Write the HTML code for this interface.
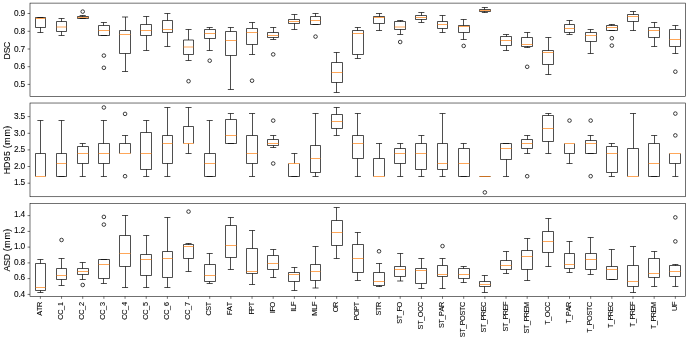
<!DOCTYPE html>
<html><head><meta charset="utf-8"><style>
html,body{margin:0;padding:0;background:#fff;}
svg{display:block;will-change:transform;}
.b path{fill:none;stroke:#000;stroke-width:0.694;stroke-linecap:butt;stroke-linejoin:miter;}
.b path.m{stroke:#ff7f0e;stroke-linecap:butt;}
.b circle.fl{fill:none;stroke:#000;stroke-width:0.75;}
.fr{fill:none;stroke:#000;stroke-width:0.556;}
.tk{fill:none;stroke:#000;stroke-width:0.556;}
text{font-family:"Liberation Sans",sans-serif;fill:#000;stroke:#000;stroke-width:0.08px;}
.yt{font-size:8.328px;}
.xt{font-size:7.356px;}
.yl{font-size:8.830px;}
</style></head><body>
<svg width="688" height="341" viewBox="0 0 688 341">
<rect width="688" height="341" fill="#fff"/>
<g class="b">
<path d="M40.5 27.5V32.5M37.35 32.5H43.42M37.35 17.5H43.42M35.5 27.5H45.5V17.5H35.5Z"/>
<path class="m" d="M35.5 18.5H45.5"/>
<path d="M61.5 31.5V35.5M61.5 21.5V18.5M58.52 35.5H64.59M58.52 18.5H64.59M56.5 31.5H66.5V21.5H56.5Z"/>
<path class="m" d="M56.5 27H66.5"/>
<path d="M82.5 16.5V15.5M79.68 18.5H85.75M79.68 15.5H85.75M77.5 18.5H88.5V16.5H77.5Z"/>
<path class="m" d="M77.5 17.5H88.5"/>
<circle class="fl" cx="82.72" cy="11.6" r="1.8"/>
<path d="M103.5 25.5V22.5M100.85 35.5H106.92M100.85 22.5H106.92M98.5 35.5H109.5V25.5H98.5Z"/>
<path class="m" d="M98.5 30.5H109.5"/>
<circle class="fl" cx="103.88" cy="55.6" r="1.8"/>
<circle class="fl" cx="103.88" cy="67.8" r="1.8"/>
<path d="M125.5 53.5V71.5M125.5 30.5V17M122.01 71.5H128.08M122.01 17H128.08M119.5 53.5H130.5V30.5H119.5Z"/>
<path class="m" d="M119.5 34.5H130.5"/>
<path d="M146.5 35.5V50.5M146.5 24.5V16.5M143.18 50.5H149.25M143.18 16.5H149.25M140.5 35.5H151.5V24.5H140.5Z"/>
<path class="m" d="M140.5 30.5H151.5"/>
<path d="M167.5 32.5V46.5M167.5 20.5V13.5M164.34 46.5H170.41M164.34 13.5H170.41M162.5 32.5H172.5V20.5H162.5Z"/>
<path class="m" d="M162.5 29.5H172.5"/>
<path d="M188.5 54.5V60.5M188.5 40V29.5M185.51 60.5H191.58M185.51 29.5H191.58M183.5 54.5H193.5V40H183.5Z"/>
<path class="m" d="M183.5 47H193.5"/>
<circle class="fl" cx="188.54" cy="81.2" r="1.8"/>
<path d="M209.5 38.5V50.5M209.5 29.5V27.5M206.67 50.5H212.74M206.67 27.5H212.74M204.5 38.5H215.5V29.5H204.5Z"/>
<path class="m" d="M204.5 33.5H215.5"/>
<circle class="fl" cx="209.71" cy="60.7" r="1.8"/>
<path d="M230.5 55.5V89.5M230.5 31.5V27.5M227.84 89.5H233.91M227.84 27.5H233.91M225.5 55.5H236.5V31.5H225.5Z"/>
<path class="m" d="M225.5 40.5H236.5"/>
<path d="M252.5 44.5V54.5M252.5 28.5V22.5M249 54.5H255.07M249 22.5H255.07M246.5 44.5H257.5V28.5H246.5Z"/>
<path class="m" d="M246.5 32.5H257.5"/>
<circle class="fl" cx="252.04" cy="80.7" r="1.8"/>
<path d="M273.5 37.5V39.5M273.5 32.5V27.5M270.17 39.5H276.24M270.17 27.5H276.24M267.5 37.5H278.5V32.5H267.5Z"/>
<path class="m" d="M267.5 35.5H278.5"/>
<circle class="fl" cx="273.2" cy="54.4" r="1.8"/>
<path d="M294.5 23.5V29.5M294.5 19.5V14.5M291.33 29.5H297.4M291.33 14.5H297.4M288.5 23.5H299.5V19.5H288.5Z"/>
<path class="m" d="M288.5 21.5H299.5"/>
<path d="M315.5 16.5V13.5M312.5 24.5H318.57M312.5 13.5H318.57M310.5 24.5H320.5V16.5H310.5Z"/>
<path class="m" d="M310.5 20.5H320.5"/>
<circle class="fl" cx="315.53" cy="36.6" r="1.8"/>
<path d="M336.5 82.5V92.5M336.5 62.5V52.5M333.66 92.5H339.73M333.66 52.5H339.73M331.5 82.5H342.5V62.5H331.5Z"/>
<path class="m" d="M331.5 72.5H342.5"/>
<path d="M357.5 54.5V58.5M357.5 30.5V27.5M354.83 58.5H360.9M354.83 27.5H360.9M352.5 54.5H363.5V30.5H352.5Z"/>
<path class="m" d="M352.5 33.5H363.5"/>
<path d="M379.5 23.5V30.5M379.5 16.5V13.5M375.99 30.5H382.06M375.99 13.5H382.06M373.5 23.5H384.5V16.5H373.5Z"/>
<path class="m" d="M373.5 17.5H384.5"/>
<path d="M400.5 29.5V34.5M400.5 21.5V20.5M397.16 34.5H403.23M397.16 20.5H403.23M394.5 29.5H405.5V21.5H394.5Z"/>
<path class="m" d="M394.5 27H405.5"/>
<circle class="fl" cx="400.19" cy="42" r="1.8"/>
<path d="M421.5 19.5V22.5M421.5 15.5V12.5M418.32 22.5H424.39M418.32 12.5H424.39M415.5 19.5H426.5V15.5H415.5Z"/>
<path class="m" d="M415.5 17.5H426.5"/>
<path d="M442.5 28.5V32.5M442.5 21.5V15.5M439.49 32.5H445.56M439.49 15.5H445.56M437.5 28.5H447.5V21.5H437.5Z"/>
<path class="m" d="M437.5 24.5H447.5"/>
<path d="M463.5 32.5V39.5M463.5 25.5V19.5M460.65 39.5H466.72M460.65 19.5H466.72M458.5 32.5H469.5V25.5H458.5Z"/>
<path class="m" d="M458.5 26.5H469.5"/>
<circle class="fl" cx="463.69" cy="45.9" r="1.8"/>
<path d="M484.5 11.5V12.5M484.5 9.5V7.5M481.82 12.5H487.89M481.82 7.5H487.89M479.5 11.5H490.5V9.5H479.5Z"/>
<path class="m" d="M479.5 10.5H490.5"/>
<path d="M506.5 45.5V50.5M506.5 36.5V34.5M502.98 50.5H509.05M502.98 34.5H509.05M500.5 45.5H511.5V36.5H500.5Z"/>
<path class="m" d="M500.5 40.5H511.5"/>
<path d="M527.5 46.5V47.5M527.5 37.5V32.5M524.15 47.5H530.22M524.15 32.5H530.22M521.5 46.5H532.5V37.5H521.5Z"/>
<path class="m" d="M521.5 44.5H532.5"/>
<circle class="fl" cx="527.18" cy="66.8" r="1.8"/>
<path d="M548.5 64.5V74.5M548.5 50.5V37.5M545.31 74.5H551.38M545.31 37.5H551.38M542.5 64.5H553.5V50.5H542.5Z"/>
<path class="m" d="M542.5 52.5H553.5"/>
<path d="M569.5 32.5V34.5M569.5 24.5V20.5M566.48 34.5H572.55M566.48 20.5H572.55M564.5 32.5H574.5V24.5H564.5Z"/>
<path class="m" d="M564.5 28.5H574.5"/>
<path d="M590.5 41.5V53.5M590.5 32.5V29.5M587.64 53.5H593.71M587.64 29.5H593.71M585.5 41.5H596.5V32.5H585.5Z"/>
<path class="m" d="M585.5 35.5H596.5"/>
<path d="M611.5 25.5V24.5M608.81 30.5H614.88M608.81 24.5H614.88M606.5 30.5H617.5V25.5H606.5Z"/>
<path class="m" d="M606.5 27.5H617.5"/>
<circle class="fl" cx="611.84" cy="38.2" r="1.8"/>
<circle class="fl" cx="611.84" cy="45.6" r="1.8"/>
<path d="M633.5 21.5V30.5M633.5 14.5V11.5M629.97 30.5H636.04M629.97 11.5H636.04M627.5 21.5H638.5V14.5H627.5Z"/>
<path class="m" d="M627.5 16.5H638.5"/>
<path d="M654.5 37.5V46.5M654.5 27.5V22.5M651.14 46.5H657.21M651.14 22.5H657.21M648.5 37.5H659.5V27.5H648.5Z"/>
<path class="m" d="M648.5 30.5H659.5"/>
<path d="M675.5 46.5V53.5M675.5 29.5V25.5M672.3 53.5H678.37M672.3 25.5H678.37M669.5 46.5H680.5V29.5H669.5Z"/>
<path class="m" d="M669.5 39.5H680.5"/>
<circle class="fl" cx="675.34" cy="71.7" r="1.8"/>
<path d="M40.5 153.5V120.5M37.35 120.5H43.42M35.5 176.5V153.5H45.5V176.5"/>
<path class="m" d="M35.5 176.5H45.5"/>
<path d="M61.5 153.5V120.5M58.52 176.5H64.59M58.52 120.5H64.59M56.5 176.5H66.5V153.5H56.5Z"/>
<path class="m" d="M56.5 163.5H66.5"/>
<path d="M82.5 163.5V176.5M82.5 146.5V143.5M79.68 176.5H85.75M79.68 143.5H85.75M77.5 163.5H88.5V146.5H77.5Z"/>
<path class="m" d="M77.5 153.5H88.5"/>
<path d="M103.5 163.5V176.5M103.5 143.5V120.5M100.85 176.5H106.92M100.85 120.5H106.92M98.5 163.5H109.5V143.5H98.5Z"/>
<path class="m" d="M98.5 153.5H109.5"/>
<circle class="fl" cx="103.88" cy="107.5" r="1.8"/>
<path d="M125.5 143.5V135.5M122.01 135.5H128.08M119.5 153.5V143.5H130.5V153.5"/>
<path class="m" d="M119.5 153.5H130.5"/>
<circle class="fl" cx="125.05" cy="113.9" r="1.8"/>
<circle class="fl" cx="125.05" cy="176.2" r="1.8"/>
<path d="M146.5 169.5V176.5M146.5 132.5V120.5M143.18 176.5H149.25M143.18 120.5H149.25M140.5 169.5H151.5V132.5H140.5Z"/>
<path class="m" d="M140.5 153.5H151.5"/>
<path d="M167.5 163.5V176.5M167.5 135.5V107.5M164.34 176.5H170.41M164.34 107.5H170.41M162.5 163.5H172.5V135.5H162.5Z"/>
<path class="m" d="M162.5 143.5H172.5"/>
<path d="M188.5 143.5V153.5M188.5 126.5V107.5M185.51 153.5H191.58M185.51 107.5H191.58M183.5 143.5V126.5H193.5V143.5"/>
<path class="m" d="M183.5 143.5H193.5"/>
<path d="M209.5 153.5V120.5M206.67 176.5H212.74M206.67 120.5H212.74M204.5 176.5H215.5V153.5H204.5Z"/>
<path class="m" d="M204.5 163.5H215.5"/>
<path d="M230.5 119.5V113.5M227.84 143.5H233.91M227.84 113.5H233.91M225.5 143.5H236.5V119.5H225.5Z"/>
<path class="m" d="M225.5 135.5H236.5"/>
<path d="M252.5 163.5V176.5M252.5 135.5V113.5M249 176.5H255.07M249 113.5H255.07M246.5 163.5H257.5V135.5H246.5Z"/>
<path class="m" d="M246.5 153.5H257.5"/>
<path d="M273.5 145.5V147.5M273.5 139.5V135.5M270.17 147.5H276.24M270.17 135.5H276.24M267.5 145.5H278.5V139.5H267.5Z"/>
<path class="m" d="M267.5 143.5H278.5"/>
<circle class="fl" cx="273.2" cy="120.6" r="1.8"/>
<circle class="fl" cx="273.2" cy="163.5" r="1.8"/>
<path d="M294.5 163.5V153.5M291.33 176.5H297.4M291.33 153.5H297.4M288.5 163.5V176.5H299.5V163.5"/>
<path class="m" d="M288.5 163.5H299.5"/>
<path d="M315.5 172.5V176.5M315.5 145.5V113.5M312.5 176.5H318.57M312.5 113.5H318.57M310.5 172.5H320.5V145.5H310.5Z"/>
<path class="m" d="M310.5 158.5H320.5"/>
<path d="M336.5 128.5V135.5M336.5 114.5V107.5M333.66 135.5H339.73M333.66 107.5H339.73M331.5 128.5H342.5V114.5H331.5Z"/>
<path class="m" d="M331.5 121.5H342.5"/>
<path d="M357.5 158.5V176.5M357.5 135.5V113.5M354.83 176.5H360.9M354.83 113.5H360.9M352.5 158.5H363.5V135.5H352.5Z"/>
<path class="m" d="M352.5 143.5H363.5"/>
<path d="M379.5 158.5V143.5M375.99 143.5H382.06M373.5 176.5V158.5H384.5V176.5"/>
<path class="m" d="M373.5 176.5H384.5"/>
<path d="M400.5 163.5V176.5M400.5 148.5V143.5M397.16 176.5H403.23M397.16 143.5H403.23M394.5 163.5H405.5V148.5H394.5Z"/>
<path class="m" d="M394.5 153.5H405.5"/>
<path d="M421.5 169.5V176.5M421.5 143.5V135.5M418.32 176.5H424.39M418.32 135.5H424.39M415.5 169.5H426.5V143.5H415.5Z"/>
<path class="m" d="M415.5 153.5H426.5"/>
<path d="M442.5 169.5V176.5M442.5 143.5V113.5M439.49 176.5H445.56M439.49 113.5H445.56M437.5 169.5H447.5V143.5H437.5Z"/>
<path class="m" d="M437.5 163.5H447.5"/>
<path d="M463.5 148.5V143.5M460.65 176.5H466.72M460.65 143.5H466.72M458.5 176.5H469.5V148.5H458.5Z"/>
<path class="m" d="M458.5 163.5H469.5"/>
<path d="M479.5 176.5H490.5"/>
<path class="m" d="M479.5 176.5H490.5"/>
<circle class="fl" cx="484.85" cy="192.4" r="1.8"/>
<path d="M506.5 159.5V176.5M502.98 176.5H509.05M502.98 143.5H509.05M500.5 159.5H511.5V143.5H500.5Z"/>
<path class="m" d="M500.5 148.5H511.5"/>
<path d="M527.5 148.5V153.5M527.5 139.5V135.5M524.15 153.5H530.22M524.15 135.5H530.22M521.5 148.5H532.5V139.5H521.5Z"/>
<path class="m" d="M521.5 143.5H532.5"/>
<circle class="fl" cx="527.18" cy="176.2" r="1.8"/>
<path d="M548.5 141.5V153.5M548.5 115.5V113.5M545.31 153.5H551.38M545.31 113.5H551.38M542.5 141.5H553.5V115.5H542.5Z"/>
<path class="m" d="M542.5 128.5H553.5"/>
<path d="M569.5 153.5V163.5M566.48 163.5H572.55M564.5 143.5V153.5H574.5V143.5"/>
<path class="m" d="M564.5 143.5H574.5"/>
<circle class="fl" cx="569.51" cy="120.6" r="1.8"/>
<path d="M590.5 140.5V135.5M587.64 153.5H593.71M587.64 135.5H593.71M585.5 153.5H596.5V140.5H585.5Z"/>
<path class="m" d="M585.5 143.5H596.5"/>
<circle class="fl" cx="590.68" cy="120.6" r="1.8"/>
<circle class="fl" cx="590.68" cy="176.2" r="1.8"/>
<path d="M611.5 172.5V176.5M611.5 146.5V143.5M608.81 176.5H614.88M608.81 143.5H614.88M606.5 172.5H617.5V146.5H606.5Z"/>
<path class="m" d="M606.5 153.5H617.5"/>
<path d="M633.5 148.5V113.5M629.97 113.5H636.04M627.5 176.5V148.5H638.5V176.5"/>
<path class="m" d="M627.5 176.5H638.5"/>
<path d="M654.5 143.5V135.5M651.14 176.5H657.21M651.14 135.5H657.21M648.5 176.5H659.5V143.5H648.5Z"/>
<path class="m" d="M648.5 163.5H659.5"/>
<path d="M675.5 163.5V176.5M672.3 176.5H678.37M669.5 153.5V163.5H680.5V153.5"/>
<path class="m" d="M669.5 153.5H680.5"/>
<circle class="fl" cx="675.34" cy="113.6" r="1.8"/>
<circle class="fl" cx="675.34" cy="135.4" r="1.8"/>
<path d="M40.5 290.5V292.5M40.5 263.5V259.5M37.35 292.5H43.42M37.35 259.5H43.42M35.5 290.5H45.5V263.5H35.5Z"/>
<path class="m" d="M35.5 287.5H45.5"/>
<path d="M61.5 279.5V285.5M61.5 268.5V258.5M58.52 285.5H64.59M58.52 258.5H64.59M56.5 279.5H66.5V268.5H56.5Z"/>
<path class="m" d="M56.5 275.5H66.5"/>
<circle class="fl" cx="61.55" cy="240" r="1.8"/>
<path d="M82.5 274.5V279.5M82.5 268.5V262.5M79.68 279.5H85.75M79.68 262.5H85.75M77.5 274.5H88.5V268.5H77.5Z"/>
<path class="m" d="M77.5 271.5H88.5"/>
<circle class="fl" cx="82.72" cy="285" r="1.8"/>
<path d="M103.5 278.5V283.5M100.85 283.5H106.92M100.85 259.5H106.92M98.5 278.5H109.5V259.5H98.5Z"/>
<path class="m" d="M98.5 264.5H109.5"/>
<circle class="fl" cx="103.88" cy="216.9" r="1.8"/>
<circle class="fl" cx="103.88" cy="224.6" r="1.8"/>
<path d="M125.5 266.5V287.5M125.5 235.5V215.5M122.01 287.5H128.08M122.01 215.5H128.08M119.5 266.5H130.5V235.5H119.5Z"/>
<path class="m" d="M119.5 253.5H130.5"/>
<path d="M146.5 275.5V287.5M146.5 254.5V235.5M143.18 287.5H149.25M143.18 235.5H149.25M140.5 275.5H151.5V254.5H140.5Z"/>
<path class="m" d="M140.5 259.5H151.5"/>
<path d="M167.5 277.5V287.5M167.5 251.5V217.5M164.34 287.5H170.41M164.34 217.5H170.41M162.5 277.5H172.5V251.5H162.5Z"/>
<path class="m" d="M162.5 258.5H172.5"/>
<path d="M188.5 258.5V271.5M188.5 244.5V243.5M185.51 271.5H191.58M185.51 243.5H191.58M183.5 258.5H193.5V244.5H183.5Z"/>
<path class="m" d="M183.5 246.5H193.5"/>
<circle class="fl" cx="188.54" cy="211.6" r="1.8"/>
<path d="M209.5 281.5V283.5M209.5 264.5V253.5M206.67 283.5H212.74M206.67 253.5H212.74M204.5 281.5H215.5V264.5H204.5Z"/>
<path class="m" d="M204.5 275.5H215.5"/>
<path d="M230.5 257.5V269.5M230.5 225.5V217.5M227.84 269.5H233.91M227.84 217.5H233.91M225.5 257.5H236.5V225.5H225.5Z"/>
<path class="m" d="M225.5 245.5H236.5"/>
<path d="M252.5 273.5V284.5M252.5 248.5V230.5M249 284.5H255.07M249 230.5H255.07M246.5 273.5H257.5V248.5H246.5Z"/>
<path class="m" d="M246.5 271.5H257.5"/>
<path d="M273.5 269.5V277.5M273.5 255.5V249.5M270.17 277.5H276.24M270.17 249.5H276.24M267.5 269.5H278.5V255.5H267.5Z"/>
<path class="m" d="M267.5 263.5H278.5"/>
<path d="M294.5 281.5V290.5M294.5 272.5V267.5M291.33 290.5H297.4M291.33 267.5H297.4M288.5 281.5H299.5V272.5H288.5Z"/>
<path class="m" d="M288.5 274.5H299.5"/>
<path d="M315.5 280.5V288M315.5 264.5V246.5M312.5 288H318.57M312.5 246.5H318.57M310.5 280.5H320.5V264.5H310.5Z"/>
<path class="m" d="M310.5 271.5H320.5"/>
<path d="M336.5 245.5V258.5M336.5 220.5V207.5M333.66 258.5H339.73M333.66 207.5H339.73M331.5 245.5H342.5V220.5H331.5Z"/>
<path class="m" d="M331.5 232.5H342.5"/>
<path d="M357.5 272.5V280.5M357.5 244.5V232.5M354.83 280.5H360.9M354.83 232.5H360.9M352.5 272.5H363.5V244.5H352.5Z"/>
<path class="m" d="M352.5 258.5H363.5"/>
<path d="M379.5 285.5V286.5M379.5 272.5V263.5M375.99 286.5H382.06M375.99 263.5H382.06M373.5 285.5H384.5V272.5H373.5Z"/>
<path class="m" d="M373.5 281.5H384.5"/>
<circle class="fl" cx="379.03" cy="251.3" r="1.8"/>
<path d="M400.5 276.5V281M400.5 266.5V253.5M397.16 281H403.23M397.16 253.5H403.23M394.5 276.5H405.5V266.5H394.5Z"/>
<path class="m" d="M394.5 269.5H405.5"/>
<path d="M421.5 283.5V288.5M421.5 268.5V258.5M418.32 288.5H424.39M418.32 258.5H424.39M415.5 283.5H426.5V268.5H415.5Z"/>
<path class="m" d="M415.5 270.5H426.5"/>
<path d="M442.5 276.5V288.5M442.5 265.5V258.5M439.49 288.5H445.56M439.49 258.5H445.56M437.5 276.5H447.5V265.5H437.5Z"/>
<path class="m" d="M437.5 274.5H447.5"/>
<circle class="fl" cx="442.52" cy="246.1" r="1.8"/>
<path d="M463.5 278.5V282.5M463.5 268.5V266.5M460.65 282.5H466.72M460.65 266.5H466.72M458.5 278.5H469.5V268.5H458.5Z"/>
<path class="m" d="M458.5 274.5H469.5"/>
<path d="M484.5 286.5V292.5M484.5 281.5V275.5M481.82 292.5H487.89M481.82 275.5H487.89M479.5 286.5H490.5V281.5H479.5Z"/>
<path class="m" d="M479.5 284.5H490.5"/>
<path d="M506.5 269.5V273.5M506.5 260.5V251.5M502.98 273.5H509.05M502.98 251.5H509.05M500.5 269.5H511.5V260.5H500.5Z"/>
<path class="m" d="M500.5 265.5H511.5"/>
<path d="M527.5 269.5V280.5M527.5 250.5V238.5M524.15 280.5H530.22M524.15 238.5H530.22M521.5 269.5H532.5V250.5H521.5Z"/>
<path class="m" d="M521.5 256.5H532.5"/>
<path d="M548.5 252.5V266.5M548.5 231.5V218.5M545.31 266.5H551.38M545.31 218.5H551.38M542.5 252.5H553.5V231.5H542.5Z"/>
<path class="m" d="M542.5 241.5H553.5"/>
<path d="M569.5 268.5V272.5M569.5 253.5V241.5M566.48 272.5H572.55M566.48 241.5H572.55M564.5 268.5H574.5V253.5H564.5Z"/>
<path class="m" d="M564.5 264.5H574.5"/>
<path d="M590.5 269.5V274.5M590.5 253.5V237.5M587.64 274.5H593.71M587.64 237.5H593.71M585.5 269.5H596.5V253.5H585.5Z"/>
<path class="m" d="M585.5 259.5H596.5"/>
<path d="M611.5 266.5V249.5M608.81 279.5H614.88M608.81 249.5H614.88M606.5 279.5H617.5V266.5H606.5Z"/>
<path class="m" d="M606.5 269.5H617.5"/>
<path d="M633.5 286.5V292.5M633.5 265.5V246.5M629.97 292.5H636.04M629.97 246.5H636.04M627.5 286.5H638.5V265.5H627.5Z"/>
<path class="m" d="M627.5 281.5H638.5"/>
<path d="M654.5 277.5V286.5M654.5 258.5V251.5M651.14 286.5H657.21M651.14 251.5H657.21M648.5 277.5H659.5V258.5H648.5Z"/>
<path class="m" d="M648.5 273.5H659.5"/>
<path d="M675.5 276.5V286.5M675.5 265.5V264.5M672.3 286.5H678.37M672.3 264.5H678.37M669.5 276.5H680.5V265.5H669.5Z"/>
<path class="m" d="M669.5 271.5H680.5"/>
<circle class="fl" cx="675.34" cy="217.4" r="1.8"/>
<circle class="fl" cx="675.34" cy="241.4" r="1.8"/>
</g>
<rect class="fr" x="30" y="3.1" width="655.5" height="93.47"/>
<path class="tk" d="M27.57 84.4H30M27.57 66.7H30M27.57 49H30M27.57 31.3H30M27.57 13.5H30"/>
<rect class="fr" x="30" y="103.02" width="655.5" height="93.73"/>
<path class="tk" d="M27.57 183.2H30M27.57 166.5H30M27.57 149.9H30M27.57 133.3H30M27.57 116.6H30"/>
<rect class="fr" x="30" y="203.35" width="655.5" height="93.06"/>
<path class="tk" d="M27.57 294.4H30M27.57 278.6H30M27.57 262.9H30M27.57 247.1H30M27.57 231.4H30M27.57 215.6H30M40.39 296.41V298.84M61.55 296.41V298.84M82.72 296.41V298.84M103.88 296.41V298.84M125.05 296.41V298.84M146.21 296.41V298.84M167.38 296.41V298.84M188.54 296.41V298.84M209.71 296.41V298.84M230.87 296.41V298.84M252.04 296.41V298.84M273.2 296.41V298.84M294.37 296.41V298.84M315.53 296.41V298.84M336.7 296.41V298.84M357.86 296.41V298.84M379.03 296.41V298.84M400.19 296.41V298.84M421.36 296.41V298.84M442.52 296.41V298.84M463.69 296.41V298.84M484.85 296.41V298.84M506.02 296.41V298.84M527.18 296.41V298.84M548.35 296.41V298.84M569.51 296.41V298.84M590.68 296.41V298.84M611.84 296.41V298.84M633.01 296.41V298.84M654.17 296.41V298.84M675.34 296.41V298.84"/>
<text class="yt" transform="translate(25.14 87)" x="-11.15 -6.68 -4.52">0.5</text>
<text class="yt" transform="translate(25.14 69)" x="-11.15 -6.68 -4.52">0.6</text>
<text class="yt" transform="translate(25.14 52)" x="-11.15 -6.68 -4.52">0.7</text>
<text class="yt" transform="translate(25.14 34)" x="-11.15 -6.68 -4.52">0.8</text>
<text class="yt" transform="translate(25.14 16)" x="-11.15 -6.68 -4.52">0.9</text>
<text class="yl" transform="translate(9.9 50.65) rotate(-90)" x="-8.74 -2.65 2.66">DSC</text>
<text class="yt" transform="translate(25.14 185)" x="-11.15 -6.68 -4.52">1.5</text>
<text class="yt" transform="translate(25.14 169)" x="-11.15 -6.68 -4.52">2.0</text>
<text class="yt" transform="translate(25.14 152)" x="-11.15 -6.68 -4.52">2.5</text>
<text class="yt" transform="translate(25.14 136)" x="-11.15 -6.68 -4.52">3.0</text>
<text class="yt" transform="translate(25.14 119)" x="-11.15 -6.68 -4.52">3.5</text>
<text class="yl" transform="translate(9.9 149.9) rotate(-90)" x="-24.38 -18.04 -11.45 -6.15 -0.95 1.75 5.23 13.34 21.23">HD95 (mm)</text>
<text class="yt" transform="translate(25.14 297)" x="-11.15 -6.68 -4.52">0.4</text>
<text class="yt" transform="translate(25.14 280)" x="-11.15 -6.68 -4.52">0.6</text>
<text class="yt" transform="translate(25.14 265)" x="-11.15 -6.68 -4.52">0.8</text>
<text class="yt" transform="translate(25.14 249)" x="-11.15 -6.68 -4.52">1.0</text>
<text class="yt" transform="translate(25.14 233)" x="-11.15 -6.68 -4.52">1.2</text>
<text class="yt" transform="translate(25.14 217)" x="-11.15 -6.68 -4.52">1.4</text>
<text class="yl" transform="translate(9.9 249.95) rotate(-90)" x="-21.48 -15.99 -10.38 -3.89 -1.19 2.29 10.4 18.29">ASD (mm)</text>
<text class="xt" transform="translate(41.89 301.87) rotate(-90)" x="-13.89 -9.19 -5.07">ATR</text>
<text class="xt" transform="translate(63.05 301.87) rotate(-90)" x="-17.81 -12.96 -8.2 -4.25">CC_1</text>
<text class="xt" transform="translate(84.22 301.87) rotate(-90)" x="-17.81 -12.96 -8.2 -4.25">CC_2</text>
<text class="xt" transform="translate(105.38 301.87) rotate(-90)" x="-17.81 -12.96 -8.2 -4.25">CC_3</text>
<text class="xt" transform="translate(126.55 301.87) rotate(-90)" x="-17.81 -12.96 -8.2 -4.25">CC_4</text>
<text class="xt" transform="translate(147.71 301.87) rotate(-90)" x="-17.81 -12.96 -8.2 -4.25">CC_5</text>
<text class="xt" transform="translate(168.88 301.87) rotate(-90)" x="-17.81 -12.96 -8.2 -4.25">CC_6</text>
<text class="xt" transform="translate(190.04 301.87) rotate(-90)" x="-17.81 -12.96 -8.2 -4.25">CC_7</text>
<text class="xt" transform="translate(211.21 301.87) rotate(-90)" x="-13.72 -8.9 -4.37">CST</text>
<text class="xt" transform="translate(232.37 301.87) rotate(-90)" x="-13.23 -9.07 -4.37">FAT</text>
<text class="xt" transform="translate(253.54 301.87) rotate(-90)" x="-12.67 -8.79 -4.37">FPT</text>
<text class="xt" transform="translate(274.7 301.87) rotate(-90)" x="-11.5 -9.71 -5.59">IFO</text>
<text class="xt" transform="translate(295.87 301.87) rotate(-90)" x="-9.9 -7.97 -4.24">ILF</text>
<text class="xt" transform="translate(317.03 301.87) rotate(-90)" x="-13.92 -7.97 -4.24">MLF</text>
<text class="xt" transform="translate(338.2 301.87) rotate(-90)" x="-10.41 -5.07">OR</text>
<text class="xt" transform="translate(359.36 301.87) rotate(-90)" x="-18.43 -14.02 -8.79 -4.37">POPT</text>
<text class="xt" transform="translate(380.53 301.87) rotate(-90)" x="-13.72 -9.19 -5.07">STR</text>
<text class="xt" transform="translate(401.69 301.87) rotate(-90)" x="-21.82 -17.29 -13.24 -9.71 -5.59">ST_FO</text>
<text class="xt" transform="translate(422.86 301.87) rotate(-90)" x="-27.52 -22.99 -18.93 -15.28 -9.92 -5.08">ST_OCC</text>
<text class="xt" transform="translate(444.02 301.87) rotate(-90)" x="-26.12 -21.59 -17.54 -14.12 -9.65 -5.07">ST_PAR</text>
<text class="xt" transform="translate(465.19 301.87) rotate(-90)" x="-35.5 -30.97 -26.92 -23.5 -19.08 -13.74 -9.21 -5.08">ST_POSTC</text>
<text class="xt" transform="translate(486.35 301.87) rotate(-90)" x="-30.6 -26.07 -22.02 -18.6 -14.3 -9.49 -5.08">ST_PREC</text>
<text class="xt" transform="translate(507.52 301.87) rotate(-90)" x="-29.75 -25.22 -21.16 -17.74 -13.44 -8.64 -4.24">ST_PREF</text>
<text class="xt" transform="translate(528.68 301.87) rotate(-90)" x="-31.75 -27.22 -23.16 -19.74 -15.44 -10.63 -6.06">ST_PREM</text>
<text class="xt" transform="translate(549.85 301.87) rotate(-90)" x="-22.99 -18.93 -15.28 -9.92 -5.08">T_OCC</text>
<text class="xt" transform="translate(571.01 301.87) rotate(-90)" x="-21.59 -17.54 -14.12 -9.65 -5.07">T_PAR</text>
<text class="xt" transform="translate(592.18 301.87) rotate(-90)" x="-30.97 -26.92 -23.5 -19.08 -13.74 -9.21 -5.08">T_POSTC</text>
<text class="xt" transform="translate(613.34 301.87) rotate(-90)" x="-26.07 -22.02 -18.6 -14.3 -9.49 -5.08">T_PREC</text>
<text class="xt" transform="translate(634.51 301.87) rotate(-90)" x="-25.22 -21.16 -17.74 -13.44 -8.64 -4.24">T_PREF</text>
<text class="xt" transform="translate(655.67 301.87) rotate(-90)" x="-27.22 -23.16 -19.74 -15.44 -10.63 -6.06">T_PREM</text>
<text class="xt" transform="translate(676.84 301.87) rotate(-90)" x="-9.19 -4.24">UF</text>
</svg>
</body></html>
